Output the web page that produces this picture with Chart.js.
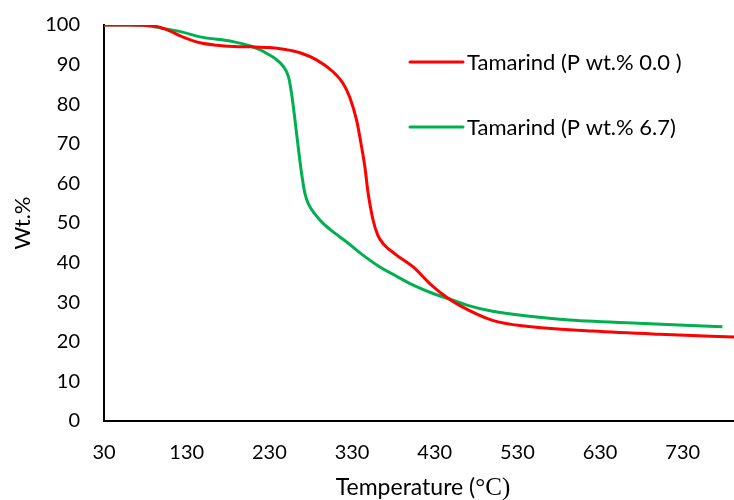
<!DOCTYPE html>
<html>
<head>
<meta charset="utf-8">
<script src="https://cdn.jsdelivr.net/npm/chart.js@4.4.0/dist/chart.umd.min.js"></script>
<style>
  html, body { margin: 0; padding: 0; background: #fff; }
  #wrap { width: 734px; height: 500px; }
</style>
</head>
<body>
<div id="wrap"><canvas id="tgaChart" width="734" height="500"></canvas></div>
<script>
// TGA curves
const seriesLabels = ['Tamarind (P wt.% 0.0 )', 'Tamarind (P wt.% 6.7)'];
const seriesColors = ['#ff0000', '#00b050'];

const redTemp = [30, 60, 89, 105, 125, 146, 166, 187, 207, 230, 247, 267, 287, 307, 319, 327, 335.5, 341.5, 345.5, 349.5, 355.5, 361, 367.6, 383.8, 404, 424, 444, 460, 500, 541, 621, 702, 795];
const redWt = [100, 100, 99.8, 98.9, 97, 95.5, 94.9, 94.6, 94.5, 94.3, 93.9, 93.0, 91.2, 88.2, 85.3, 81.9, 76, 69.3, 64.2, 57.5, 50.7, 47, 44.8, 41.9, 38.9, 34.7, 31.3, 29.2, 25.4, 23.9, 22.7, 21.9, 21.2];

const greenTemp = [30, 60, 80, 100, 125, 146, 186, 207, 219, 227, 237, 247, 253, 257, 261, 265, 269, 273, 278, 285, 295, 310, 323.5, 340, 363.6, 380, 404, 428, 448, 470, 500, 581, 662, 778];
const greenWt = [100, 100, 99.9, 99.2, 98.2, 97.0, 95.8, 94.7, 93.7, 92.8, 91.5, 89.5, 87, 82.5, 76, 69, 62.5, 57.5, 54.5, 52.3, 49.9, 47.3, 45.2, 42.4, 38.9, 37.0, 34.3, 32.2, 30.8, 29.2, 27.7, 25.7, 24.8, 23.8];

const xTicks = [30, 130, 230, 330, 430, 530, 630, 730];
const xMin = 30, xMax = 792;
const yMin = 0, yMax = 100, yStep = 10;

const FONT = 'Lato, "Open Sans", sans-serif';
const SERIF = '"Liberation Serif", "DejaVu Serif", serif';

function toPoints(xs, ys) {
    return xs.map((x, i) => ({ x: x, y: ys[i] }));
}

// legend drawn inside the plot, right of the curves
const insideLegend = {
    id: 'insideLegend',
    afterDraw(chart) {
        const ctx = chart.ctx;
        const rows = [62, 127];
        ctx.save();
        chart.data.datasets.forEach((ds, i) => {
            const y = rows[i];
            ctx.strokeStyle = ds.borderColor;
            ctx.lineWidth = 3;
            ctx.lineCap = 'round';
            ctx.beginPath();
            ctx.moveTo(410, y);
            ctx.lineTo(463, y);
            ctx.stroke();
            ctx.fillStyle = '#000';
            ctx.font = '22px ' + FONT;
            ctx.textBaseline = 'middle';
            ctx.textAlign = 'left';
            ctx.fillText(ds.label, 467, y + 1);
        });
        ctx.restore();
    }
};

// x title with the degree sign set in a serif face, like the original
const xTitle = {
    id: 'xTitle',
    afterDraw(chart) {
        const ctx = chart.ctx;
        const area = chart.chartArea;
        const partA = 'Temperature (';
        const partB = '°C)';
        ctx.save();
        ctx.fillStyle = '#000';
        ctx.textBaseline = 'middle';
        ctx.textAlign = 'left';
        ctx.font = '23px ' + FONT;
        const wA = ctx.measureText(partA).width;
        ctx.font = '25px ' + SERIF;
        const wB = ctx.measureText(partB).width;
        const x0 = (area.left + area.right) / 2 + 4 - (wA + wB) / 2;
        ctx.font = '23px ' + FONT;
        ctx.fillText(partA, x0, 488);
        ctx.font = '25px ' + SERIF;
        ctx.fillText(partB, x0 + wA, 488);
        ctx.restore();
    }
};

new Chart(document.getElementById('tgaChart'), {
    type: 'line',
    data: {
        datasets: [
            {
                label: seriesLabels[0],
                data: toPoints(redTemp, redWt),
                borderColor: seriesColors[0],
                borderWidth: 3,
                pointRadius: 0,
                cubicInterpolationMode: 'monotone',
                fill: false
            },
            {
                label: seriesLabels[1],
                data: toPoints(greenTemp, greenWt),
                borderColor: seriesColors[1],
                borderWidth: 3,
                pointRadius: 0,
                cubicInterpolationMode: 'monotone',
                fill: false
            }
        ]
    },
    options: {
        responsive: false,
        animation: false,
        layout: { padding: { top: 25, right: 0, left: 0, bottom: 0 } },
        plugins: {
            legend: { display: false },
            tooltip: { enabled: false }
        },
        scales: {
            x: {
                type: 'linear',
                min: xMin,
                max: xMax,
                afterBuildTicks: (scale) => {
                    scale.ticks = xTicks.map(v => ({ value: v }));
                },
                afterFit: (scale) => {
                    scale.height = 79;
                    scale.paddingLeft = 0;
                    scale.paddingRight = 0;
                },
                grid: { display: false, drawTicks: false },
                border: { display: true, color: '#000', width: 2 },
                ticks: {
                    color: '#000',
                    font: { family: FONT, size: 20 },
                    padding: 20,
                    maxRotation: 0
                },
                title: { display: false }
            },
            y: {
                min: yMin,
                max: yMax,
                afterFit: (scale) => {
                    scale.width = 104;
                    scale.paddingTop = 0;
                    scale.paddingBottom = 0;
                },
                grid: { display: false, drawTicks: false },
                border: { display: true, color: '#000', width: 2 },
                ticks: {
                    stepSize: yStep,
                    color: '#000',
                    font: { family: FONT, size: 20 },
                    padding: 24
                },
                title: {
                    display: true,
                    text: 'Wt.%',
                    color: '#000',
                    font: { family: FONT, size: 22 },
                    padding: 10
                }
            }
        }
    },
    plugins: [insideLegend, xTitle]
});
</script>
</body>
</html>
